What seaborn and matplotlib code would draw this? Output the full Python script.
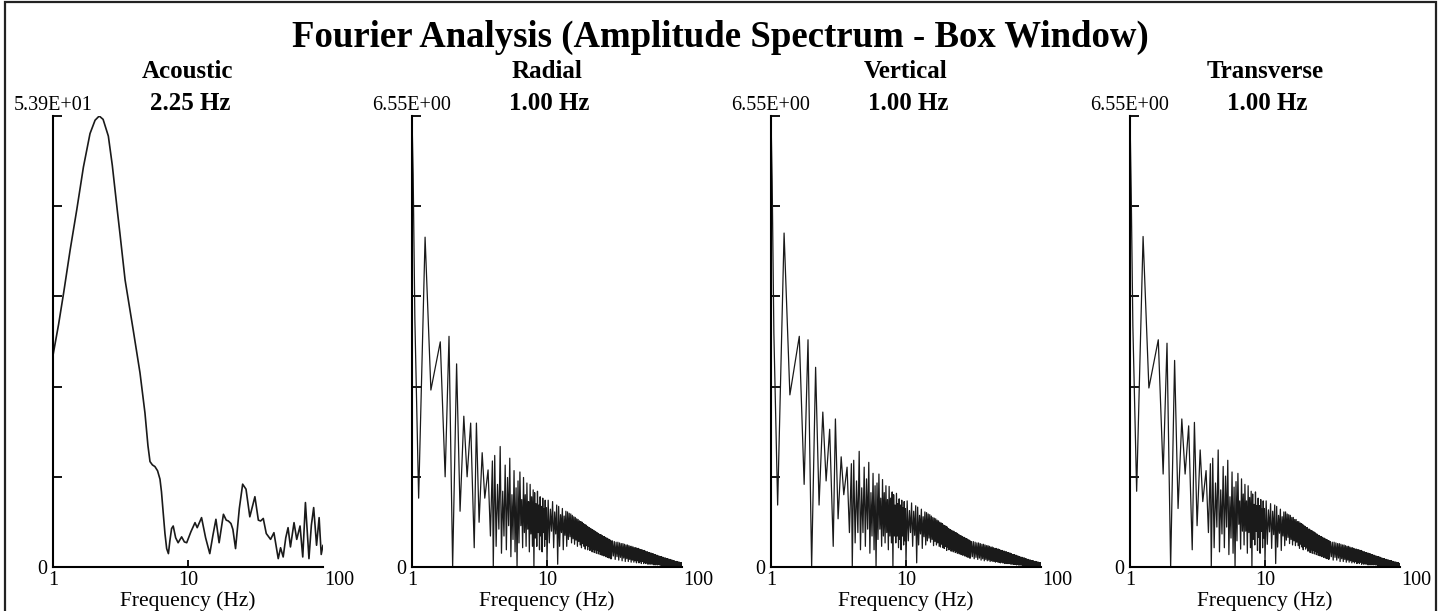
import matplotlib

matplotlib.use("Agg")
import matplotlib.pyplot as plt
import numpy as np
import pandas as pd
import seaborn as sns
from matplotlib.patches import Rectangle
from matplotlib.ticker import NullLocator

# ---- data ------------------------------------------------------------------

# Acoustic channel: smooth hump peaking at 2.25 Hz, then noise floor
acoustic_freq = [1.00, 1.10, 1.20, 1.34, 1.50, 1.68, 1.88, 2.05, 2.20, 2.35,
                 2.57, 2.75, 3.00, 3.13, 3.42, 3.93, 4.41, 4.80, 5.05, 5.23,
                 5.45, 5.69, 5.95, 6.20, 6.36, 6.55, 6.75, 6.95, 7.16, 7.35,
                 7.56, 7.77, 8.10, 8.45, 8.97, 9.40, 9.78, 10.5, 11.27, 11.7,
                 12.6, 13.5, 14.5, 15.3, 16.1, 17.0, 18.3, 19.2, 19.9, 20.8,
                 21.5, 22.5, 24.0, 25.4, 26.9, 28.7, 31.3, 33.2, 34.5, 36.1,
                 38.0, 40.9, 43.3, 46.6, 48.5, 50.7, 53.0, 55.1, 57.4, 61.0,
                 63.9, 67.6, 70.8, 74.1, 78.7, 82.0, 85.3, 89.6, 93.6, 97.0,
                 100.0]
acoustic_amp = [25.3, 29.0, 32.8, 37.9, 42.7, 47.8, 51.8, 53.4, 53.9, 53.5,
                51.5, 48.0, 42.5, 39.9, 34.3, 28.3, 23.2, 18.4, 14.5, 12.6,
                12.2, 12.0, 11.5, 10.5, 9.0, 6.5, 4.0, 2.2, 1.6, 3.2,
                4.6, 4.9, 3.5, 2.9, 3.6, 3.0, 2.9, 4.2, 5.3, 4.7,
                5.9, 3.5, 1.6, 3.8, 5.7, 2.9, 6.3, 5.6, 5.5, 5.2,
                4.5, 2.2, 7.0, 9.9, 9.3, 6.0, 8.4, 5.6, 5.5, 5.8,
                4.0, 3.3, 4.1, 1.0, 2.3, 1.2, 3.5, 4.7, 2.4, 5.3,
                3.3, 4.9, 1.2, 7.7, 1.0, 5.0, 7.1, 2.6, 5.9, 1.5,
                2.6]

# geophone channels: individual lobes below 4 Hz
lobe_freq = [1.0, 1.02, 1.05, 1.12, 1.25, 1.38, 1.62, 1.76, 1.88, 2.0,
             2.14, 2.27, 2.42, 2.56, 2.72, 2.89, 3.0, 3.14, 3.31, 3.46,
             3.66, 3.81, 3.94]
radial_lobes = [6.55, 5.7, 3.6, 1.0, 4.79, 2.57, 3.27, 1.31, 3.35, 0.0,
                2.95, 0.81, 2.19, 1.31, 2.09, 0.28, 2.09, 0.65, 1.66, 1.0,
                1.41, 0.45, 1.54]
vertical_lobes = [6.55, 5.6, 3.4, 0.9, 4.85, 2.5, 3.35, 1.2, 3.3, 0.0,
                  2.9, 0.9, 2.25, 1.25, 2.0, 0.3, 2.15, 0.7, 1.6, 1.05,
                  1.45, 0.5, 1.5]
transverse_lobes = [6.55, 5.5, 3.5, 1.1, 4.8, 2.6, 3.3, 1.35, 3.25, 0.0,
                    3.0, 0.85, 2.15, 1.35, 2.05, 0.25, 2.1, 0.6, 1.7, 0.95,
                    1.4, 0.5, 1.5]

# dense part of the spectrum: FFT bins from 4 Hz up
dense_freq = np.concatenate([
    np.round(np.arange(4.0, 9.95, 0.1), 1),     # 60 bins
    np.round(np.arange(10.0, 29.9, 0.2), 1),    # 100 bins
    np.arange(30.0, 100.25, 0.5),               # 141 bins
])

radial_dense = [
    # 4 - 9.9 Hz
    0.00, 1.62, 0.30, 1.20, 0.55, 1.75, 0.20, 1.10, 0.45, 1.48,
    0.25, 1.30, 0.60, 1.58, 0.15, 1.05, 0.40, 1.40, 0.22, 1.15,
    0.00, 1.25, 0.35, 1.38, 0.60, 0.98, 0.28, 1.30, 0.50, 1.05,
    0.30, 1.22, 0.55, 0.95, 0.22, 1.20, 0.48, 1.02, 0.30, 1.12,
    0.00, 1.08, 0.42, 0.92, 0.30, 1.10, 0.50, 0.90, 0.25, 1.02,
    0.45, 0.88, 0.22, 1.00, 0.50, 0.85, 0.30, 0.97, 0.40, 0.86,
    # 10 - 29.8 Hz
    0.05, 0.97, 0.35, 0.84, 0.52, 0.95, 0.28, 0.80, 0.48, 0.90,
    0.04, 0.88, 0.30, 0.76, 0.50, 0.85, 0.25, 0.74, 0.46, 0.81,
    0.30, 0.80, 0.40, 0.78, 0.44, 0.77, 0.35, 0.75, 0.41, 0.73,
    0.33, 0.72, 0.39, 0.70, 0.30, 0.69, 0.37, 0.67, 0.32, 0.66,
    0.28, 0.65, 0.34, 0.63, 0.30, 0.62, 0.26, 0.61, 0.31, 0.59,
    0.25, 0.58, 0.30, 0.57, 0.24, 0.56, 0.28, 0.55, 0.22, 0.54,
    0.26, 0.53, 0.21, 0.52, 0.25, 0.51, 0.20, 0.50, 0.24, 0.49,
    0.19, 0.48, 0.23, 0.47, 0.18, 0.47, 0.22, 0.46, 0.17, 0.45,
    0.21, 0.44, 0.16, 0.44, 0.20, 0.43, 0.15, 0.42, 0.19, 0.42,
    0.14, 0.41, 0.18, 0.40, 0.13, 0.40, 0.17, 0.39, 0.12, 0.38,
    # 30 - 100 Hz
    0.12, 0.38, 0.16, 0.37, 0.11, 0.36, 0.15, 0.36, 0.10, 0.35,
    0.14, 0.34, 0.09, 0.34, 0.13, 0.33, 0.08, 0.32, 0.12, 0.32,
    0.08, 0.31, 0.11, 0.30, 0.07, 0.30, 0.10, 0.29, 0.07, 0.28,
    0.09, 0.28, 0.06, 0.27, 0.09, 0.27, 0.06, 0.26, 0.08, 0.25,
    0.05, 0.25, 0.08, 0.24, 0.05, 0.24, 0.07, 0.23, 0.05, 0.22,
    0.07, 0.22, 0.04, 0.21, 0.06, 0.21, 0.04, 0.20, 0.06, 0.20,
    0.04, 0.19, 0.05, 0.19, 0.03, 0.18, 0.05, 0.18, 0.03, 0.17,
    0.05, 0.17, 0.03, 0.16, 0.04, 0.16, 0.03, 0.15, 0.04, 0.15,
    0.02, 0.15, 0.04, 0.14, 0.02, 0.14, 0.03, 0.13, 0.02, 0.13,
    0.03, 0.13, 0.02, 0.12, 0.03, 0.12, 0.02, 0.12, 0.03, 0.11,
    0.02, 0.11, 0.02, 0.11, 0.02, 0.10, 0.02, 0.10, 0.01, 0.10,
    0.02, 0.09, 0.01, 0.09, 0.02, 0.09, 0.01, 0.08, 0.02, 0.08,
    0.01, 0.08, 0.02, 0.08, 0.01, 0.07, 0.01, 0.07, 0.01, 0.07,
    0.01, 0.07, 0.01, 0.06, 0.01, 0.06, 0.01, 0.06, 0.01, 0.06,
    0.05,
]
vertical_dense = [
    0.00, 1.55, 0.35, 1.25, 0.50, 1.68, 0.25, 1.15, 0.50, 1.45,
    0.30, 1.28, 0.55, 1.52, 0.20, 1.08, 0.45, 1.36, 0.25, 1.18,
    0.00, 1.22, 0.40, 1.35, 0.55, 1.00, 0.30, 1.27, 0.45, 1.08,
    0.35, 1.18, 0.50, 0.98, 0.25, 1.17, 0.45, 1.00, 0.35, 1.09,
    0.00, 1.05, 0.45, 0.90, 0.35, 1.07, 0.45, 0.92, 0.28, 0.99,
    0.40, 0.90, 0.25, 0.97, 0.45, 0.86, 0.32, 0.95, 0.38, 0.85,
    0.04, 0.96, 0.38, 0.82, 0.50, 0.93, 0.30, 0.81, 0.46, 0.89,
    0.06, 0.87, 0.32, 0.75, 0.48, 0.84, 0.27, 0.73, 0.44, 0.80,
    0.32, 0.79, 0.38, 0.77, 0.42, 0.76, 0.36, 0.74, 0.40, 0.72,
    0.31, 0.71, 0.37, 0.70, 0.32, 0.68, 0.35, 0.67, 0.30, 0.65,
    0.29, 0.64, 0.33, 0.63, 0.28, 0.61, 0.27, 0.60, 0.30, 0.59,
    0.24, 0.58, 0.29, 0.56, 0.25, 0.55, 0.27, 0.54, 0.23, 0.53,
    0.25, 0.52, 0.22, 0.52, 0.24, 0.50, 0.21, 0.50, 0.23, 0.49,
    0.20, 0.48, 0.22, 0.47, 0.19, 0.46, 0.21, 0.45, 0.18, 0.45,
    0.20, 0.44, 0.17, 0.43, 0.19, 0.43, 0.16, 0.42, 0.18, 0.41,
    0.15, 0.41, 0.17, 0.40, 0.14, 0.39, 0.16, 0.39, 0.13, 0.38,
    0.13, 0.37, 0.15, 0.37, 0.12, 0.36, 0.14, 0.35, 0.11, 0.35,
    0.13, 0.34, 0.10, 0.33, 0.12, 0.33, 0.09, 0.32, 0.11, 0.31,
    0.09, 0.31, 0.10, 0.30, 0.08, 0.29, 0.09, 0.29, 0.08, 0.28,
    0.08, 0.27, 0.07, 0.27, 0.08, 0.26, 0.07, 0.26, 0.07, 0.25,
    0.06, 0.24, 0.07, 0.24, 0.06, 0.23, 0.06, 0.23, 0.05, 0.22,
    0.06, 0.22, 0.05, 0.21, 0.05, 0.21, 0.05, 0.20, 0.05, 0.20,
    0.04, 0.19, 0.05, 0.18, 0.04, 0.18, 0.04, 0.18, 0.04, 0.17,
    0.04, 0.17, 0.03, 0.16, 0.04, 0.16, 0.03, 0.15, 0.03, 0.15,
    0.03, 0.14, 0.03, 0.14, 0.03, 0.14, 0.02, 0.13, 0.03, 0.13,
    0.02, 0.13, 0.03, 0.12, 0.02, 0.12, 0.02, 0.11, 0.02, 0.11,
    0.02, 0.11, 0.02, 0.10, 0.02, 0.10, 0.01, 0.10, 0.02, 0.09,
    0.01, 0.09, 0.02, 0.09, 0.01, 0.09, 0.01, 0.08, 0.01, 0.08,
    0.01, 0.08, 0.01, 0.08, 0.01, 0.07, 0.01, 0.07, 0.01, 0.07,
    0.01, 0.07, 0.01, 0.06, 0.01, 0.06, 0.01, 0.06, 0.01, 0.06,
    0.05,
]
transverse_dense = [
    0.00, 1.58, 0.28, 1.22, 0.58, 1.70, 0.22, 1.12, 0.48, 1.46,
    0.28, 1.32, 0.58, 1.55, 0.18, 1.02, 0.42, 1.38, 0.20, 1.16,
    0.00, 1.24, 0.38, 1.36, 0.62, 0.96, 0.26, 1.28, 0.52, 1.06,
    0.32, 1.20, 0.52, 0.96, 0.20, 1.18, 0.50, 1.01, 0.28, 1.10,
    0.00, 1.06, 0.40, 0.91, 0.32, 1.09, 0.52, 0.89, 0.24, 1.00,
    0.43, 0.89, 0.20, 0.98, 0.52, 0.84, 0.28, 0.96, 0.42, 0.85,
    0.06, 0.96, 0.33, 0.83, 0.51, 0.92, 0.27, 0.81, 0.47, 0.90,
    0.05, 0.88, 0.29, 0.75, 0.49, 0.84, 0.24, 0.73, 0.45, 0.80,
    0.31, 0.80, 0.39, 0.77, 0.43, 0.76, 0.34, 0.75, 0.40, 0.72,
    0.32, 0.72, 0.38, 0.69, 0.31, 0.69, 0.36, 0.66, 0.31, 0.66,
    0.27, 0.64, 0.33, 0.63, 0.29, 0.62, 0.25, 0.60, 0.30, 0.59,
    0.26, 0.57, 0.29, 0.57, 0.23, 0.55, 0.27, 0.55, 0.21, 0.53,
    0.25, 0.53, 0.20, 0.51, 0.24, 0.51, 0.19, 0.50, 0.23, 0.48,
    0.18, 0.48, 0.22, 0.46, 0.17, 0.46, 0.21, 0.45, 0.16, 0.44,
    0.20, 0.44, 0.15, 0.43, 0.19, 0.42, 0.14, 0.42, 0.18, 0.41,
    0.13, 0.40, 0.17, 0.40, 0.12, 0.39, 0.16, 0.38, 0.11, 0.38,
    0.12, 0.37, 0.15, 0.36, 0.10, 0.36, 0.14, 0.35, 0.10, 0.34,
    0.13, 0.34, 0.08, 0.33, 0.12, 0.32, 0.08, 0.32, 0.11, 0.31,
    0.07, 0.30, 0.10, 0.30, 0.07, 0.29, 0.09, 0.28, 0.06, 0.28,
    0.08, 0.27, 0.06, 0.26, 0.08, 0.26, 0.05, 0.25, 0.07, 0.25,
    0.05, 0.24, 0.07, 0.24, 0.04, 0.23, 0.06, 0.22, 0.04, 0.22,
    0.06, 0.21, 0.04, 0.21, 0.05, 0.20, 0.03, 0.20, 0.05, 0.19,
    0.03, 0.19, 0.05, 0.18, 0.03, 0.18, 0.04, 0.17, 0.03, 0.17,
    0.04, 0.16, 0.03, 0.16, 0.04, 0.15, 0.02, 0.15, 0.03, 0.15,
    0.02, 0.14, 0.03, 0.14, 0.02, 0.13, 0.03, 0.13, 0.02, 0.12,
    0.03, 0.12, 0.02, 0.12, 0.02, 0.11, 0.02, 0.11, 0.02, 0.11,
    0.01, 0.10, 0.02, 0.10, 0.01, 0.10, 0.02, 0.09, 0.01, 0.09,
    0.02, 0.09, 0.01, 0.09, 0.01, 0.08, 0.01, 0.08, 0.01, 0.08,
    0.01, 0.07, 0.01, 0.07, 0.01, 0.07, 0.01, 0.07, 0.01, 0.06,
    0.01, 0.06, 0.01, 0.06, 0.01, 0.06, 0.01, 0.05, 0.01, 0.05,
    0.05,
]

channel_names = ["Acoustic", "Radial", "Vertical", "Transverse"]
peak_labels = ["2.25 Hz", "1.00 Hz", "1.00 Hz", "1.00 Hz"]
max_labels = ["5.39E+01", "6.55E+00", "6.55E+00", "6.55E+00"]
max_values = [53.9, 6.55, 6.55, 6.55]

# ---- layout (pixels of the 1440x611 canvas) --------------------------------
W, H = 1440, 611
PANEL_LEFT = [53, 412, 771, 1130]
PANEL_W = 270
AX_TOP, AX_BOTTOM = 116, 567
INK = "#000000"
LINE = "#1a1a1a"

sns.set_theme(style="white")
plt.rcParams["font.family"] = ["Liberation Serif", "DejaVu Serif"]
plt.rcParams["axes.edgecolor"] = INK
plt.rcParams["text.color"] = INK


def fx(x):
    return x / W


def fy(y):
    return 1 - y / H


fig = plt.figure(figsize=(14.4, 6.11), dpi=100)
fig.patch.set_facecolor("white")

# outer frame of the report page
fig.patches.append(Rectangle((fx(5), fy(H + 10)), fx(1436) - fx(5), fy(2) - fy(H + 10),
                             transform=fig.transFigure, fill=False, edgecolor="#222222",
                             linewidth=1.6))

fig.text(fx(720), fy(47), "Fourier Analysis (Amplitude Spectrum - Box Window)",
         ha="center", va="baseline", fontsize=26.5, fontweight="bold")

series = [
    (acoustic_freq, acoustic_amp),
    (lobe_freq + list(dense_freq), radial_lobes + radial_dense),
    (lobe_freq + list(dense_freq), vertical_lobes + vertical_dense),
    (lobe_freq + list(dense_freq), transverse_lobes + transverse_dense),
]

for i, (freq, amp) in enumerate(series):
    left = PANEL_LEFT[i]
    ax = fig.add_axes([fx(left), fy(AX_BOTTOM), PANEL_W / W, (AX_BOTTOM - AX_TOP) / H])
    frame = pd.DataFrame({"freq": freq, "amp": amp})
    sns.lineplot(data=frame, x="freq", y="amp", ax=ax, color=LINE,
                 linewidth=0.9 if i else 1.2, estimator=None, sort=False)
    ax.set_xscale("log")
    ax.set_xlim(1, 100)
    ymax = max_values[i]
    ax.set_ylim(0, ymax)
    ax.set_xlabel("")
    ax.set_ylabel("")
    ax.set_facecolor("white")

    for side in ["top", "right"]:
        ax.spines[side].set_visible(False)
    for side in ["left", "bottom"]:
        ax.spines[side].set_linewidth(1.5)
        ax.spines[side].set_color(INK)

    ax.set_yticks([ymax * k / 5 for k in range(6)])
    ax.set_yticklabels(["0", "", "", "", "", ""])
    ax.set_xticks([1, 10, 100])
    ax.set_xticklabels(["1", "10", ""])
    ax.xaxis.set_minor_locator(NullLocator())
    ax.tick_params(axis="y", direction="in", length=6.5, width=1.3, pad=4,
                   labelsize=14.5, colors=INK, left=True)
    ax.tick_params(axis="x", direction="in", length=5, width=1.3, pad=3,
                   labelsize=14.5, colors=INK, bottom=True)
    ax.xaxis.get_major_ticks()[-1].tick1line.set_visible(False)
    ax.xaxis.get_major_ticks()[0].tick1line.set_visible(False)

    # last decade label sits a little right of the axis end in the original
    ax.annotate("100", xy=(100, 0), xycoords=("data", "axes fraction"),
                xytext=(12, -3), textcoords="offset points",
                ha="center", va="top", fontsize=14.5)

    # scale maximum centred over the y axis
    ax.annotate(max_labels[i], xy=(0, 1), xycoords="axes fraction",
                xytext=(0, 4.5), textcoords="offset points",
                ha="center", va="baseline", fontsize=14.5)

    centre = left + PANEL_W / 2
    fig.text(fx(centre), fy(78), channel_names[i], ha="center", va="baseline",
             fontsize=18, fontweight="bold")
    fig.text(fx(centre + 2), fy(110), peak_labels[i], ha="center", va="baseline",
             fontsize=18, fontweight="bold")
    fig.text(fx(centre), fy(606), "Frequency (Hz)", ha="center", va="baseline",
             fontsize=15.5)

fig.savefig("out.png", dpi=100, facecolor="white")
plt.close(fig)
